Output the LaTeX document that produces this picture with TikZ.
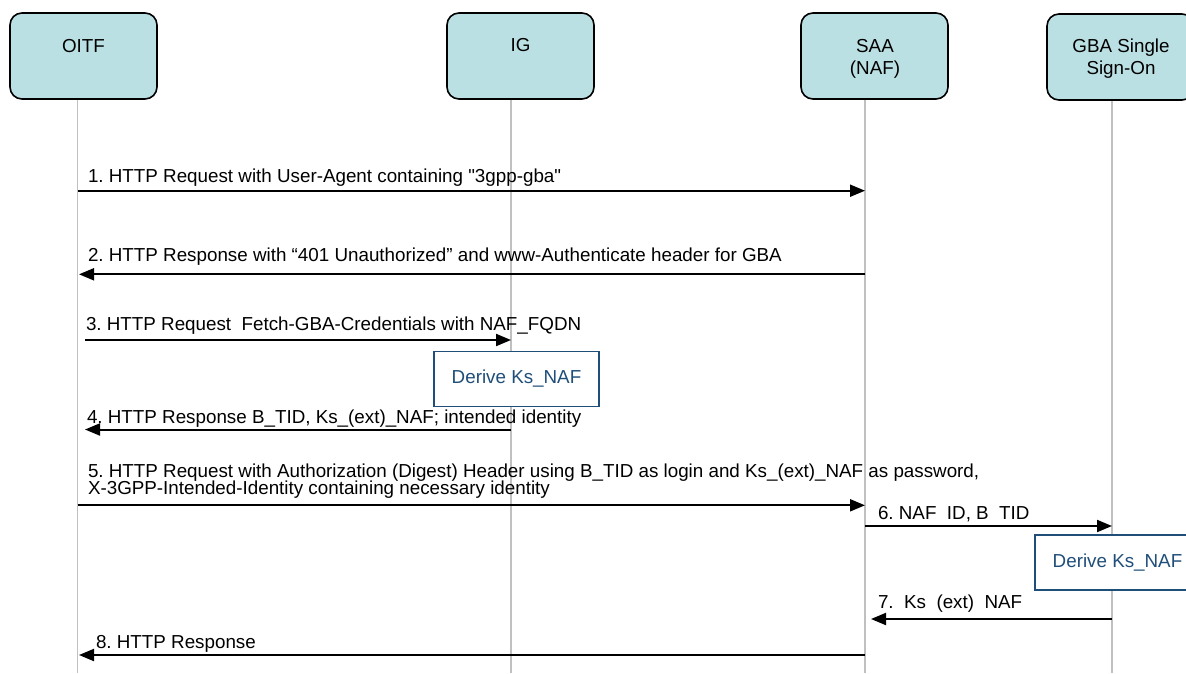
\documentclass[tikz,border=0pt]{standalone}
\usepackage{fontspec}
\setmainfont{Liberation Sans}[Ligatures=TeXOff]
\usetikzlibrary{arrows.meta,positioning}

\definecolor{boxfill}{HTML}{BBE0E3}
\definecolor{derivecol}{HTML}{1F4E79}
\definecolor{lifegray}{HTML}{C0C0C0}

\newcommand\msgfont{\fontsize{18.8}{16.5}\selectfont\setlength{\lineskiplimit}{-20pt}\relax}

\begin{document}
\frenchspacing
\begin{tikzpicture}[x=1pt,y=-1pt,->,>={Triangle[length=15pt,width=12pt]},line width=2pt,
	entity/.style={draw=black,line width=1.6pt,fill=boxfill,rounded corners=12pt,minimum width=147pt,minimum height=86pt},
	ename/.style={align=center,font=\fontsize{18.8}{22}\selectfont,inner sep=0pt},
	lifeline/.style={-,draw=lifegray,line width=1.5pt},
	msg/.style={font=\msgfont,anchor=base west,inner sep=0pt,align=left},
	derive/.style={draw=derivecol,text=derivecol,fill=white,line width=1.6pt,minimum width=165pt,minimum height=55pt,font=\fontsize{18.8}{22}\selectfont}]

	\useasboundingbox (0,0) rectangle (1186,673);

	% lifelines
	\coordinate (oitf top) at (77.5,99);	\coordinate (oitf end) at (77.5,673);
	\coordinate (ig top) at (511,99);			\coordinate (ig end) at (511,673);
	\coordinate (saa top) at (865,99);		\coordinate (saa end) at (865,673);
	\coordinate (gba top) at (1112,99);		\coordinate (gba end) at (1112,673);
	\path[lifeline] (oitf top) edge (oitf end)
				(ig top) edge (ig end)
				(saa top) edge (saa end)
				(gba top) edge (gba end);

	% entities
	\node[entity] (oitf) at (83.5,56) {};
	\node[entity] (ig)   at (520.5,56) {};
	\node[entity] (saa)  at (874.5,56) {};
	\node[entity] (gba)  at (1120.5,57) {};
	\node[ename] (oitf name) at (83.5,46) {OITF};
	\node[ename] (ig name)   at (520.5,45) {IG};
	\node[ename] (saa name)  at (875,59) {SAA\\(NAF)};
	\node[ename] (gba name)  at (1121,59) {GBA Single\\Sign-On};

	% message end points
	\coordinate (o1) at (77.5,190.7);	\coordinate (s1) at (865,190.7);
	\coordinate (s2) at (865,274.3);	\coordinate (o2) at (79,274.3);
	\coordinate (o3) at (85,340);			\coordinate (i3) at (511,340);
	\coordinate (i4) at (511,429.5);	\coordinate (o4) at (85,429.5);
	\coordinate (o5) at (77.5,505.3);	\coordinate (s5) at (865,505.3);
	\coordinate (s6) at (865,526);		\coordinate (g6) at (1112,526);
	\coordinate (g7) at (1112,619);		\coordinate (s7) at (871,619);
	\coordinate (s8) at (865,655);		\coordinate (o8) at (79,655);

	\path (o1) edge (s1)
				(s2) edge (o2)
				(o3) edge (i3)
				(i4) edge (o4)
				(o5) edge (s5)
				(s6) edge (g6)
				(g7) edge (s7)
				(s8) edge (o8);

	% labels
	\node[msg] (m1) at (87,182) {1. HTTP Request with User-Agent containing "3gpp-gba"};
	\node[msg] (m2) at (87,261.7) {2. HTTP Response with “401 Unauthorized” and www-Authenticate header for GBA};
	\node[msg] (m3) at (85,330) {3. HTTP Request\ \ Fetch-GBA-Credentials with NAF\_FQDN};
	\node[msg] (m4) at (86,423) {4. HTTP Response B\_TID, Ks\_(ext)\_NAF; intended identity};
	\node[msg] (m5) at (87,494) {5. HTTP Request with Authorization (Digest) Header using B\_TID as login and Ks\_(ext)\_NAF as password,\\X-3GPP-Intended-Identity containing necessary identity};
	\node[msg] (m6) at (877,519) {6. NAF\ \ ID, B\ \ TID};
	\node[msg] (m7) at (877,608) {7.\ \ Ks\ \ (ext)\ \ NAF};
	\node[msg] (m8) at (95,648) {8. HTTP Response};

	% key derivation
	\node[derive] (derive ig)  at (516.5,379) {Derive Ks\_NAF};
	\node[derive] (derive gba) at (1117.5,562.5) {Derive Ks\_NAF};

\end{tikzpicture}
\end{document}
